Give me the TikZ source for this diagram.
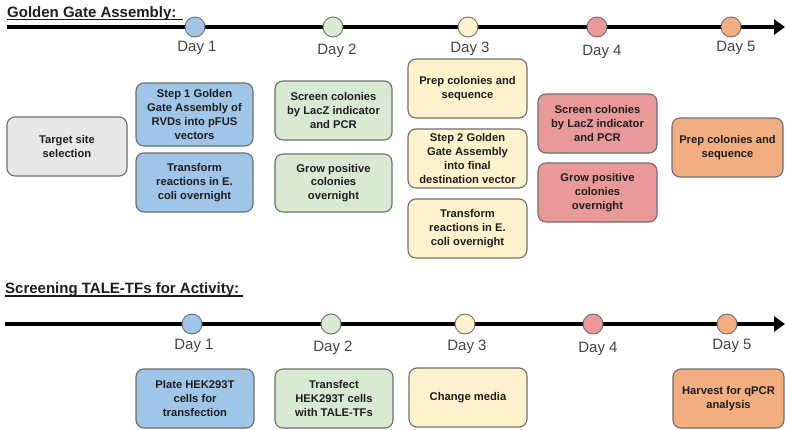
\documentclass[tikz,border=0pt]{standalone}
\usepackage{fontspec}
\setmainfont{Liberation Sans}
\usetikzlibrary{arrows.meta}
\definecolor{cblue}{HTML}{9FC5E8}
\definecolor{cgreen}{HTML}{D9EAD3}
\definecolor{cyellow}{HTML}{FFF2CC}
\definecolor{cred}{HTML}{EA9999}
\definecolor{corange}{HTML}{F2AD80}
\definecolor{cgray}{HTML}{E8E8E8}
\definecolor{cedge}{HTML}{6E6E6E}
\definecolor{cday}{HTML}{444444}
\definecolor{ctext}{HTML}{1E1E1E}
\begin{document}
\begin{tikzpicture}[x=1pt,y=-1pt,
  taskbox/.style={draw=cedge, line width=1.1pt, rounded corners=8pt, align=center,
    minimum width=117pt, minimum height=59pt, inner sep=1pt, text=ctext,
    font=\bfseries\fontsize{11.2}{13.7}\selectfont},
  daydot/.style={circle, draw=cedge, line width=0.9pt, minimum size=20pt, inner sep=0pt},
  daylabel/.style={text=cday, font=\fontsize{15}{17}\selectfont, inner sep=0pt},
  timeline/.style={line width=4.8pt, -{Triangle[length=11pt,width=15pt]}},
  heading/.style={anchor=base west, inner sep=0pt, text=ctext, font=\bfseries\fontsize{15}{17}\selectfont}]
\useasboundingbox (0,0) rectangle (785,429);

% ---- Golden Gate Assembly ----
\node[heading] (h1) at (7,17) {Golden Gate Assembly:};
\draw[line width=1.1pt, ctext] (7,19.5) -- (183,19.5);
\coordinate (a0) at (7,27);
\coordinate (a1) at (785,27);
\draw[timeline] (a0) -- (a1);
\node[daydot, fill=cblue]   (d1) at (195,27) {};
\node[daydot, fill=cgreen]  (d2) at (333,27) {};
\node[daydot, fill=cyellow] (d3) at (468,27) {};
\node[daydot, fill=cred]    (d4) at (597,27) {};
\node[daydot, fill=corange] (d5) at (731,27) {};
\node[daylabel] (l1) at (197,48) {Day 1};
\node[daylabel] (l2) at (337,51) {Day 2};
\node[daylabel] (l3) at (470,49) {Day 3};
\node[daylabel] (l4) at (602,52) {Day 4};
\node[daylabel] (l5) at (736,48) {Day 5};

\node[taskbox, fill=cgray, minimum width=120pt] (tgt) at (67,146.5) {Target site\\selection};
\node[taskbox, fill=cblue, minimum height=63pt] (s1) at (194.5,114.5) {Step 1 Golden\\Gate Assembly of\\RVDs into pFUS\\vectors};
\node[taskbox, fill=cblue] (t1) at (194.5,182.5) {Transform\\reactions in E.\\coli overnight};
\node[taskbox, fill=cgreen] (sc2) at (333.5,110.5) {Screen colonies\\by LacZ indicator\\and PCR};
\node[taskbox, fill=cgreen, minimum height=58pt] (gr2) at (333.5,183) {Grow positive\\colonies\\overnight};
\node[taskbox, fill=cyellow, minimum width=119pt] (pr3) at (467.5,88.5) {Prep colonies and\\sequence};
\node[taskbox, fill=cyellow, minimum width=119pt] (s23) at (467.5,158.5) {Step 2 Golden\\Gate Assembly\\into final\\destination vector};
\node[taskbox, fill=cyellow, minimum width=119pt] (t3) at (467.5,228.5) {Transform\\reactions in E.\\coli overnight};
\node[taskbox, fill=cred, minimum width=119pt] (sc4) at (597.5,123.5) {Screen colonies\\by LacZ indicator\\and PCR};
\node[taskbox, fill=cred, minimum width=119pt] (gr4) at (597.5,192.5) {Grow positive\\colonies\\overnight};
\node[taskbox, fill=corange, minimum width=111pt] (pr5) at (727.5,147.5) {Prep colonies and\\sequence};

% ---- Screening TALE-TFs ----
\node[heading] (h2) at (5,293) {Screening TALE-TFs for Activity:};
\draw[line width=1.1pt, ctext] (5,296) -- (243,296);
\coordinate (b0) at (5,324);
\coordinate (b1) at (785,324);
\draw[timeline] (b0) -- (b1);
\node[daydot, fill=cblue]   (e1) at (192,324) {};
\node[daydot, fill=cgreen]  (e2) at (331,324) {};
\node[daydot, fill=cyellow] (e3) at (465,324) {};
\node[daydot, fill=cred]    (e4) at (593,324) {};
\node[daydot, fill=corange] (e5) at (727,324) {};
\node[daylabel] (m1) at (194,346) {Day 1};
\node[daylabel] (m2) at (333,348) {Day 2};
\node[daylabel] (m3) at (467,347) {Day 3};
\node[daylabel] (m4) at (598,349) {Day 4};
\node[daylabel] (m5) at (732,346) {Day 5};

\node[taskbox, fill=cblue, minimum width=118pt] (pl) at (195,398.5) {Plate HEK293T\\cells for\\transfection};
\node[taskbox, fill=cgreen, minimum width=118pt] (tf) at (334,398.5) {Transfect\\HEK293T cells\\with TALE-TFs};
\node[taskbox, fill=cyellow, minimum width=118pt] (cm) at (468,397.5) {Change media};
\node[taskbox, fill=corange, minimum width=111pt] (hv) at (728.5,398.5) {Harvest for qPCR\\analysis};
\end{tikzpicture}
\end{document}
